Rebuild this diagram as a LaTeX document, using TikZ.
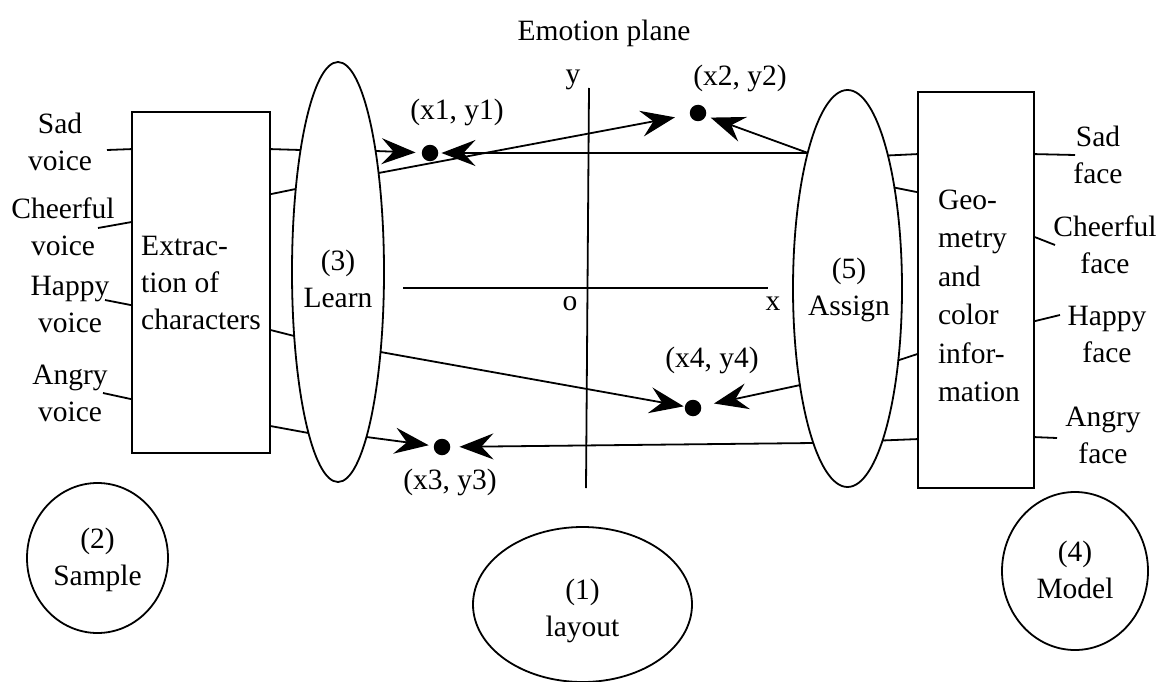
\documentclass[tikz,border=0pt]{standalone}
\usepackage{fontspec}
\setmainfont{Liberation Serif}
\usetikzlibrary{arrows.meta,shapes.geometric,calc}
\begin{document}
\begin{tikzpicture}[x=1pt,y=-1pt,
  every node/.style={font=\fontsize{29.5}{37}\selectfont},
  line/.style={line width=1.8pt},
  box/.style={draw,rectangle,line width=1.8pt,inner sep=0pt},
  oval/.style={draw,ellipse,line width=1.8pt,inner sep=0pt,align=center},
  dot/.style={circle,fill=black,minimum size=16.5pt,inner sep=0pt},
  arr/.style={line width=1.8pt,-{Stealth[length=34pt,width=26pt,inset=12pt]}},
  lbl/.style={align=center,inner sep=0pt},
  txt/.style={inner sep=0pt}
]
\useasboundingbox (0,0) rectangle (1161,682);

% title and axes
\node (title) at (604,33) {Emotion plane};
\coordinate (ytop) at (589,88);
\coordinate (ybot) at (586,488);
\coordinate (xl) at (403,288);
\coordinate (xr) at (768,288);
\draw[line] (ytop) -- (ybot);
\draw[line] (xl) -- (xr);
\node (ylab) at (573,80) {y};
\node (olab) at (570,304) {o};
\node (xlab) at (773,304) {x};

% main shapes
\node[box,minimum width=138pt,minimum height=341pt] (extract) at (201,282.5) {};
\node[txt,align=left] (extracttext) at (201,283) {Extrac-\\tion of\\characters};
\node[oval,minimum width=92pt,minimum height=420pt] (learn) at (338,272) {};
\node[lbl] (learntext) at (338,279) {(3)\\Learn};
\node[oval,minimum width=109pt,minimum height=397pt] (assign) at (847.5,288.5) {};
\node[lbl] (assigntext) at (849,290) {(5)\\Assign};
\node[box,minimum width=116pt,minimum height=396pt] (geom) at (976,290) {};
\node[txt,align=left,font=\fontsize{29.5}{38.5}\selectfont] (geomtext) at (979,296) {Geo-\\metry\\and\\color\\infor-\\mation};

% points
\node[dot] (p1) at (430,153) {};
\node[dot] (p2) at (698,113) {};
\node[dot] (p4) at (693,408) {};
\node[dot] (p3) at (442,447) {};
\node (p1l) at (457,112) {(x1, y1)};
\node (p2l) at (740,78) {(x2, y2)};
\node (p4l) at (712,360) {(x4, y4)};
\node (p3l) at (450,482) {(x3, y3)};

% left labels
\node[lbl] (sadv) at (60,141.5) {Sad\\voice};
\node[lbl] (cheerv) at (63,226.5) {Cheerful\\voice};
\node[lbl] (happyv) at (70,304.5) {Happy\\voice};
\node[lbl] (angryv) at (70,393.5) {Angry\\voice};
% right labels
\node[lbl] (sadf) at (1098,155) {Sad\\face};
\node[lbl] (cheerf) at (1105,244.5) {Cheerful\\face};
\node[lbl] (happyf) at (1107,334) {Happy\\face};
\node[lbl] (angryf) at (1103,435) {Angry\\face};

% input lines
\coordinate (sv) at (107,150);
\coordinate (cv) at (98,228);
\coordinate (hv) at (105,300);
\coordinate (av) at (103,393);
\draw[line] (sv) -- ([yshift=-38pt]extract.north west);
\draw[line] (cv) -- ([yshift=-111pt]extract.north west);
\draw[line] (hv) -- ([yshift=-194pt]extract.north west);
\draw[line] (av) -- ([yshift=-288pt]extract.north west);

% output lines
\coordinate (sf) at (1075,155);
\coordinate (cf) at (1055,245);
\coordinate (hf) at (1060,315);
\coordinate (af) at (1057,438);
\draw[line] ([yshift=-63pt]geom.north east) -- (sf);
\draw[line] ([yshift=-146pt]geom.north east) -- (cf);
\draw[line] ([yshift=-230pt]geom.north east) -- (hf);
\draw[line] ([yshift=-346pt]geom.north east) -- (af);

% extract -> learn
\draw[line] ([yshift=-38pt]extract.north east) -- ($(learn.center)+(-37.4,-122)$);
\draw[line] ([yshift=-83pt]extract.north east) -- ($(learn.center)+(-42.3,-83)$);
\draw[line] ([yshift=-219pt]extract.north east) -- ($(learn.center)+(-43.8,64)$);
\draw[line] ([yshift=-315pt]extract.north east) -- ($(learn.center)+(-29.5,161)$);

% assign -> geom
\draw[line] ($(assign.center)+(40,-133)$) -- ([yshift=-63pt]geom.north west);
\draw[line] ($(assign.center)+(46.4,-101)$) -- ([yshift=-101pt]geom.north west);
\draw[line] ($(assign.center)+(50.3,72)$) -- ([yshift=-263pt]geom.north west);
\draw[line] ($(assign.center)+(34.6,152)$) -- ([yshift=-348pt]geom.north west);

% learn -> points
\draw[arr,shorten >=6pt] ($(learn.center)+(37.6,-121)$) -- (p1);
\draw[arr,shorten >=15pt] ($(learn.center)+(40.6,-99)$) -- (p2);
\draw[arr,shorten >=1pt] ($(learn.center)+(42.5,80)$) -- (p4);
\draw[arr,shorten >=5pt] ($(learn.center)+(28.5,165)$) -- (p3);

% assign -> points
\coordinate (aup) at ($(assign.center)+(-39.5,-135.5)$);
\draw[arr,shorten >=3pt] (aup) -- (p1);
\draw[arr,shorten >=5pt] (aup) -- (p2);
\draw[arr,shorten >=13pt] ($(assign.center)+(-47.1,96.5)$) -- (p4);
\draw[arr,shorten >=9pt] ($(assign.center)+(-33.6,154.5)$) -- (p3);

% bottom ovals
\node[oval,minimum width=141pt,minimum height=150pt] (sample) at (97.5,558) {};
\node[lbl] (sampletext) at (97.5,560) {(2)\\Sample};
\node[oval,minimum width=219pt,minimum height=155pt] (layout) at (582.5,604.5) {};
\node[lbl] (layouttext) at (582.5,611) {(1)\\layout};
\node[oval,minimum width=146pt,minimum height=158pt] (model) at (1075,571) {};
\node[lbl] (modeltext) at (1075,570) {(4)\\Model};
\end{tikzpicture}
\end{document}
